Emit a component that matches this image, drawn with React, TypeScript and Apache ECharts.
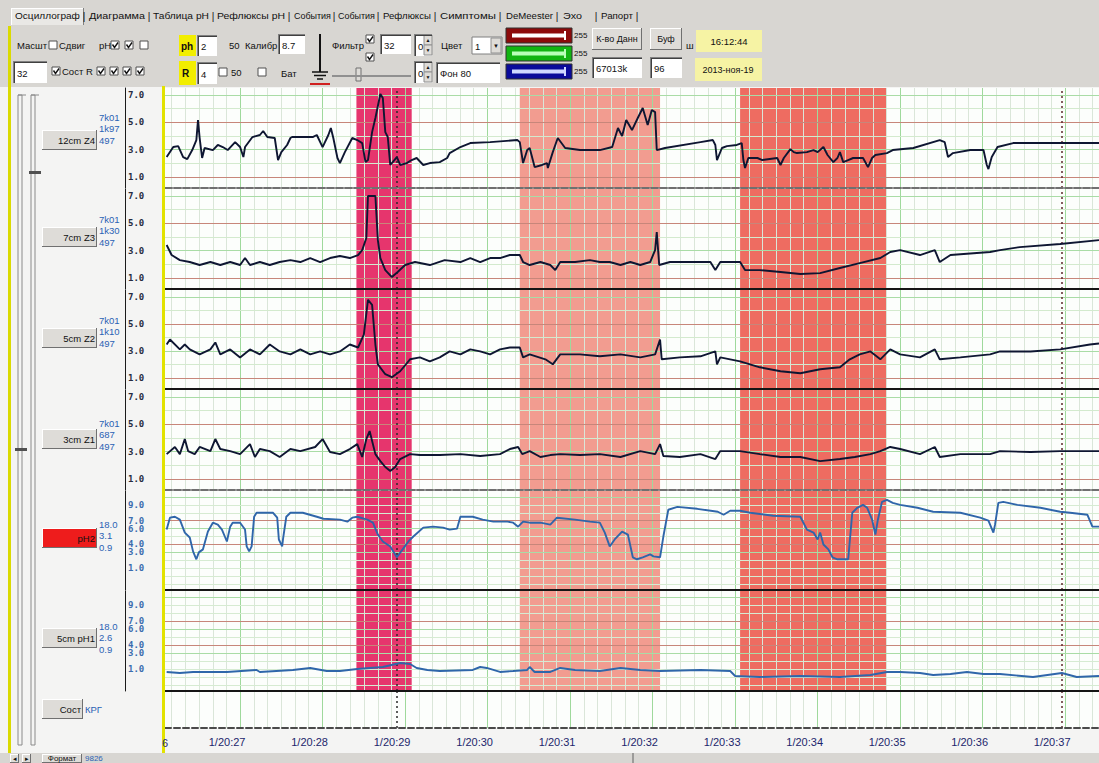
import React, { useEffect, useRef } from 'react';
import * as echarts from 'echarts';

// ---------- data ----------
const timeTicks = [27, 28, 29, 30, 31, 32, 33, 34, 35, 36, 37];
const timeLabels = ['1/20:27', '1/20:28', '1/20:29', '1/20:30', '1/20:31', '1/20:32', '1/20:33', '1/20:34', '1/20:35', '1/20:36', '1/20:37'];
const X_MIN = 26.09;
const X_MAX = 37.41;

const channelNames = ['12cm Z4', '7cm Z3', '5cm Z2', '3cm Z1', 'pH2', '5cm pH1'];
const channelReadouts = [
  ['7k01', '1k97', '497'],
  ['7k01', '1k30', '497'],
  ['7k01', '1k10', '497'],
  ['7k01', '687', '497'],
  ['18.0', '3.1', '0.9'],
  ['18.0', '2.6', '0.9'],
];
const zTickValues = [1, 3, 5, 7];
const phTickValues = [1, 3, 4, 6, 7, 9];

const tabNames = ['Осциллограф', 'Диаграмма', 'Таблица pH', 'Рефлюксы pH', 'События', 'События', 'Рефлюксы', 'Симптомы', 'DeMeester', 'Эхо', 'Рапорт'];

const bandRanges = [[28.41, 29.08], [30.39, 32.09], [33.06, 34.84]];
const bandColors = ['#e6356d', '#f29c90', '#ee6c61'];
const cursorTime = 28.9;
const markerTime = 36.96;

const trace12cmZ4 = [
  [26.11, 2.46], [26.19, 3.19], [26.25, 3.26], [26.31, 2.46], [26.36, 2.31], [26.42, 2.97], [26.47, 3.7], [26.49, 5.16], [26.51, 3.85], [26.54, 2.39],
  [26.57, 3.12], [26.67, 2.97], [26.73, 3.34], [26.79, 3.19], [26.85, 2.97], [26.94, 3.55], [27.0, 3.19], [27.04, 2.46], [27.06, 3.19], [27.15, 3.92],
  [27.24, 4.07], [27.28, 4.36], [27.33, 3.92], [27.42, 3.85], [27.46, 2.24], [27.5, 2.82], [27.57, 3.34], [27.61, 3.85], [27.63, 3.92], [27.88, 3.92],
  [27.93, 4.07], [28.0, 3.19], [28.07, 4.07], [28.1, 4.58], [28.13, 3.85], [28.18, 2.39], [28.21, 2.02], [28.27, 2.82], [28.36, 3.85], [28.42, 3.7],
  [28.48, 3.48], [28.52, 2.09], [28.55, 2.24], [28.6, 4.28], [28.64, 5.31], [28.7, 7.06], [28.73, 6.77], [28.76, 4.28], [28.79, 3.92], [28.82, 1.88],
  [28.85, 2.09], [28.9, 2.46], [28.94, 1.88], [29.02, 2.02], [29.08, 2.24], [29.14, 2.39], [29.22, 1.88], [29.3, 2.02], [29.42, 2.09], [29.51, 2.39],
  [29.54, 2.75], [29.67, 3.19], [29.79, 3.48], [30.03, 3.55], [30.36, 3.7], [30.39, 3.55], [30.43, 2.02], [30.48, 2.97], [30.51, 3.12], [30.57, 1.73],
  [30.66, 1.88], [30.72, 2.02], [30.73, 1.66], [30.79, 2.82], [30.85, 3.85], [30.94, 3.12], [31.12, 2.97], [31.36, 2.97], [31.51, 3.19], [31.58, 4.58],
  [31.63, 3.99], [31.68, 5.16], [31.75, 4.43], [31.82, 5.31], [31.88, 6.04], [31.94, 4.8], [31.99, 5.89], [32.03, 5.74], [32.05, 2.97], [32.15, 3.12],
  [32.58, 3.55], [32.73, 3.7], [32.76, 3.34], [32.78, 2.24], [32.84, 3.12], [32.9, 3.26], [33.02, 3.34], [33.08, 3.48], [33.1, 2.24], [33.12, 1.66],
  [33.16, 2.39], [33.27, 2.39], [33.33, 2.24], [33.51, 2.39], [33.55, 1.88], [33.59, 2.39], [33.67, 3.04], [33.71, 2.82], [33.75, 2.75], [33.87, 2.82],
  [33.95, 2.97], [34.0, 2.82], [34.07, 3.19], [34.12, 2.61], [34.19, 2.09], [34.24, 2.39], [34.27, 2.82], [34.31, 2.09], [34.37, 2.24], [34.43, 2.39],
  [34.55, 2.39], [34.61, 1.73], [34.66, 2.39], [34.7, 2.61], [34.84, 2.75], [34.91, 2.97], [35.16, 3.12], [35.48, 3.7], [35.54, 3.55], [35.58, 2.46],
  [35.64, 2.75], [35.85, 2.97], [36.01, 2.97], [36.05, 1.88], [36.07, 1.58], [36.11, 2.46], [36.18, 3.19], [36.37, 3.48], [36.7, 3.48], [37.41, 3.48],
];

const trace7cmZ3 = [
  [26.11, 3.41], [26.17, 2.68], [26.27, 2.31], [26.39, 2.17], [26.51, 1.95], [26.64, 2.17], [26.76, 1.95], [26.88, 2.17], [27.0, 1.95], [27.06, 2.46],
  [27.12, 1.95], [27.24, 2.17], [27.36, 1.95], [27.48, 2.17], [27.61, 2.31], [27.73, 2.17], [27.85, 2.46], [27.97, 2.17], [28.09, 2.46], [28.21, 2.61],
  [28.33, 2.46], [28.43, 2.68], [28.48, 3.04], [28.53, 3.92], [28.55, 6.99], [28.64, 6.99], [28.67, 3.77], [28.7, 2.46], [28.76, 1.58], [28.84, 1.07],
  [28.91, 1.44], [29.0, 1.95], [29.12, 2.17], [29.3, 1.95], [29.48, 2.31], [29.67, 2.17], [29.79, 2.46], [29.91, 2.17], [30.03, 2.46], [30.15, 2.46],
  [30.27, 2.68], [30.39, 2.68], [30.43, 2.17], [30.51, 1.95], [30.64, 2.17], [30.76, 1.95], [30.82, 1.58], [30.88, 2.17], [31.06, 2.17], [31.24, 2.31],
  [31.36, 2.17], [31.48, 2.17], [31.61, 1.95], [31.73, 2.17], [31.85, 1.95], [31.97, 2.17], [32.03, 3.04], [32.05, 4.36], [32.08, 1.95], [32.21, 2.17],
  [32.45, 2.17], [32.7, 2.17], [32.76, 1.58], [32.82, 2.17], [33.06, 2.17], [33.12, 1.58], [33.3, 1.58], [33.55, 1.44], [33.79, 1.29], [34.03, 1.36],
  [34.27, 1.73], [34.51, 2.09], [34.76, 2.46], [34.88, 2.9], [35.0, 3.04], [35.24, 2.68], [35.42, 3.04], [35.48, 2.17], [35.61, 2.68], [36.09, 2.9],
  [36.21, 3.04], [36.45, 3.26], [36.94, 3.48], [37.41, 3.77],
];

const trace5cmZ2 = [
  [26.11, 3.48], [26.15, 3.85], [26.27, 3.12], [26.33, 3.48], [26.39, 3.12], [26.51, 2.75], [26.64, 3.12], [26.7, 3.63], [26.76, 2.75], [26.88, 3.12],
  [27.0, 2.53], [27.12, 3.12], [27.24, 2.75], [27.36, 3.48], [27.48, 2.97], [27.61, 2.75], [27.73, 3.12], [27.85, 2.75], [27.97, 2.97], [28.09, 2.75],
  [28.21, 2.97], [28.33, 3.48], [28.43, 3.26], [28.5, 4.21], [28.55, 6.77], [28.6, 6.4], [28.64, 3.48], [28.67, 2.02], [28.76, 1.29], [28.84, 1.07],
  [28.94, 1.51], [29.06, 2.39], [29.18, 2.53], [29.3, 2.24], [29.42, 2.53], [29.54, 2.97], [29.67, 2.75], [29.79, 3.12], [29.91, 2.97], [30.03, 2.75],
  [30.15, 3.12], [30.27, 3.26], [30.39, 3.26], [30.43, 2.53], [30.51, 2.75], [30.7, 2.39], [30.79, 2.02], [30.88, 2.75], [31.12, 2.75], [31.36, 2.61],
  [31.61, 2.75], [31.85, 2.53], [32.03, 2.75], [32.09, 3.85], [32.11, 2.39], [32.33, 2.53], [32.58, 2.61], [32.76, 2.97], [32.78, 2.02], [32.82, 2.53],
  [33.06, 2.24], [33.3, 1.8], [33.55, 1.51], [33.79, 1.36], [34.03, 1.66], [34.27, 1.8], [34.39, 2.39], [34.51, 2.75], [34.64, 2.97], [34.76, 2.39],
  [34.88, 3.12], [35.0, 2.75], [35.24, 2.53], [35.42, 3.12], [35.48, 2.39], [35.73, 2.53], [36.09, 2.75], [36.21, 2.97], [36.58, 2.97], [36.94, 3.12],
  [37.3, 3.48], [37.41, 3.55],
];

const trace3cmZ1 = [
  [26.11, 2.82], [26.21, 3.34], [26.27, 2.82], [26.33, 3.92], [26.37, 3.04], [26.45, 2.82], [26.51, 3.34], [26.64, 3.04], [26.7, 3.92], [26.76, 3.19],
  [26.88, 3.04], [27.0, 2.82], [27.12, 3.55], [27.18, 2.61], [27.24, 3.19], [27.36, 3.04], [27.48, 2.61], [27.61, 3.19], [27.73, 3.04], [27.91, 3.34],
  [28.0, 3.92], [28.09, 2.97], [28.21, 2.82], [28.33, 3.19], [28.42, 3.55], [28.48, 2.61], [28.53, 3.92], [28.57, 4.5], [28.64, 2.82], [28.7, 2.31],
  [28.76, 1.88], [28.82, 1.58], [28.88, 1.88], [28.94, 2.46], [29.06, 2.82], [29.18, 2.75], [29.42, 2.75], [29.67, 2.82], [29.91, 2.68], [30.15, 2.82],
  [30.27, 3.19], [30.37, 3.34], [30.42, 2.82], [30.51, 3.04], [30.64, 2.61], [30.76, 2.75], [30.88, 2.82], [31.12, 2.75], [31.36, 2.82], [31.61, 2.61],
  [31.85, 3.04], [32.03, 2.82], [32.09, 3.55], [32.13, 2.68], [32.33, 2.61], [32.58, 2.82], [32.76, 2.46], [32.82, 3.04], [33.06, 3.04], [33.3, 2.82],
  [33.55, 2.61], [33.79, 2.61], [34.03, 2.31], [34.27, 2.46], [34.45, 2.61], [34.64, 2.82], [34.76, 3.04], [34.88, 3.34], [35.0, 3.19], [35.24, 2.82],
  [35.42, 3.34], [35.48, 2.61], [35.73, 2.82], [36.09, 2.82], [36.21, 3.04], [36.58, 2.97], [36.94, 3.04], [37.41, 3.04],
];

const tracePH2 = [
  [26.11, 5.88], [26.15, 7.38], [26.21, 7.5], [26.27, 7.13], [26.33, 5.5], [26.39, 4.88], [26.43, 3.13], [26.47, 2.13], [26.5, 3.0], [26.55, 3.38],
  [26.61, 5.63], [26.67, 6.75], [26.73, 6.5], [26.78, 5.88], [26.82, 4.88], [26.84, 4.38], [26.88, 6.25], [26.91, 6.75], [27.0, 6.75], [27.06, 5.88],
  [27.08, 3.75], [27.11, 3.13], [27.14, 3.75], [27.17, 7.5], [27.2, 8.0], [27.4, 8.0], [27.45, 7.38], [27.47, 4.63], [27.51, 3.75], [27.52, 4.63],
  [27.56, 7.5], [27.61, 8.0], [27.76, 8.0], [27.93, 7.5], [28.01, 7.25], [28.21, 7.13], [28.3, 6.88], [28.36, 7.38], [28.42, 7.5], [28.54, 7.13],
  [28.61, 6.75], [28.67, 5.25], [28.73, 4.38], [28.82, 3.75], [28.9, 2.38], [28.97, 3.38], [29.04, 4.38], [29.1, 5.0], [29.22, 6.13], [29.34, 6.25],
  [29.46, 6.13], [29.54, 5.88], [29.63, 6.0], [29.67, 7.5], [29.82, 7.5], [29.94, 7.13], [30.07, 6.88], [30.24, 6.88], [30.31, 6.75], [30.37, 6.25],
  [30.43, 6.88], [30.51, 6.75], [30.64, 6.75], [30.76, 6.5], [30.84, 7.38], [31.06, 7.13], [31.24, 6.88], [31.36, 6.75], [31.42, 5.5], [31.48, 3.75],
  [31.54, 4.63], [31.63, 5.63], [31.7, 5.25], [31.76, 2.38], [31.81, 2.13], [31.88, 2.38], [31.97, 2.75], [32.01, 2.5], [32.09, 2.38], [32.13, 5.0],
  [32.19, 8.38], [32.3, 8.75], [32.54, 8.5], [32.79, 8.13], [32.86, 7.75], [32.94, 8.25], [33.06, 8.25], [33.18, 8.0], [33.46, 7.63], [33.79, 7.5],
  [33.87, 5.88], [33.95, 5.5], [34.0, 4.63], [34.03, 5.5], [34.07, 4.0], [34.13, 3.38], [34.18, 2.38], [34.24, 2.13], [34.37, 2.13], [34.42, 8.0],
  [34.48, 8.63], [34.55, 9.0], [34.6, 8.63], [34.66, 7.13], [34.7, 5.25], [34.73, 7.13], [34.78, 9.38], [34.84, 9.63], [34.91, 9.25], [35.0, 9.0],
  [35.21, 8.63], [35.4, 8.13], [35.73, 8.0], [35.97, 7.38], [36.07, 7.0], [36.13, 5.5], [36.15, 6.5], [36.19, 9.25], [36.25, 9.38], [36.42, 9.0],
  [36.7, 8.63], [36.94, 8.13], [37.06, 8.0], [37.27, 7.75], [37.33, 6.25], [37.41, 6.25],
];

const trace5cmPH1 = [
  [26.11, 0.63], [26.27, 0.5], [26.43, 0.63], [26.84, 0.63], [27.2, 0.88], [27.24, 0.63], [27.64, 0.88], [27.85, 1.13], [28.05, 0.75], [28.21, 0.75],
  [28.42, 1.0], [28.73, 1.25], [28.94, 1.75], [29.06, 1.63], [29.14, 1.13], [29.27, 0.88], [29.42, 0.75], [29.82, 0.88], [29.91, 1.25], [29.99, 1.13],
  [30.15, 0.63], [30.31, 0.75], [30.48, 0.88], [30.51, 1.25], [30.57, 0.63], [30.76, 0.63], [30.88, 1.13], [31.06, 0.88], [31.36, 0.75], [31.61, 1.13],
  [31.85, 0.88], [32.09, 0.75], [32.58, 0.88], [32.94, 0.75], [33.0, 0.13], [33.3, 0.0], [33.79, 0.13], [34.27, 0.0], [34.64, 0.25], [34.84, 0.63],
  [35.0, 0.63], [35.24, 0.5], [35.4, 0.25], [35.61, 0.38], [35.81, 0.63], [36.01, 0.38], [36.21, 0.38], [36.61, 0.0], [36.96, 0.5], [37.14, 0.0],
  [37.41, 0.13],
];

const traces = [trace12cmZ4, trace7cmZ3, trace5cmZ2, trace3cmZ1, tracePH2, trace5cmPH1];

// ---------- layout / style ----------
const PLOT_LEFT = 165;
const PANEL_TOPS = [88, 189, 290, 390, 491, 591, 692];
const PANEL_HEIGHTS = [100, 100, 99, 100, 99, 100, 36];
const SEP_COLORS = ['#707070', '#151515', '#151515', '#707070', '#151515', '#151515'];
const SEP_TYPES: any[] = [[7, 2], 'solid', 'solid', [7, 2], 'solid', 'solid'];
const TAB_SPANS = [[15, 80], [89, 145], [153, 209], [217, 285], [294, 331], [338, 375], [383, 431], [440, 496], [506, 553], [563, 582], [601, 633]];
const TAB_SEPS = [84, 149, 213, 289, 334, 378, 435, 500, 557, 596, 637];
const UI_FONT = '"Liberation Sans", Arial, sans-serif';
const MONO_FONT = '"DejaVu Sans Mono", monospace';
const Z_COLOR = '#0e1632';
const PH_OUT = '#2f66aa';
const PH_IN = '#141a3a';

let measureCtx: CanvasRenderingContext2D | null = null;
function measure(text: string, font: string) {
  if (!measureCtx) measureCtx = document.createElement('canvas').getContext('2d');
  if (!measureCtx) return text.length * 5;
  measureCtx.font = font;
  return measureCtx.measureText(text).width;
}

function T(x: number, y: number, text: string, o: any = {}) {
  const align = o.align || 'left';
  const font = `${o.weight || 'normal'} ${o.size || 9.5}px ${o.family || UI_FONT}`;
  const el: any = {
    type: 'text', x, y, z: 30, silent: true,
    style: {
      text, fill: o.fill || '#111', font,
      textAlign: align, align, textVerticalAlign: 'middle', verticalAlign: 'middle',
    },
  };
  if (o.fitWidth) el.scaleX = o.fitWidth / measure(text, font);
  return el;
}
function R(x: number, y: number, w: number, h: number, fill: string, stroke?: string, lw = 1) {
  const style: any = { fill };
  if (stroke) { style.stroke = stroke; style.lineWidth = lw; }
  return { type: 'rect', z: 20, silent: true, shape: { x, y, width: w, height: h }, style };
}
function L(x1: number, y1: number, x2: number, y2: number, stroke: string, lw = 1) {
  return { type: 'line', z: 25, silent: true, shape: { x1, y1, x2, y2 }, style: { stroke, lineWidth: lw } };
}
function button(x: number, y: number, w: number, h: number, label: string, o: any = {}) {
  const align = o.align || 'center';
  const tx = align === 'right' ? x + w - 2 : align === 'left' ? x + 3 : x + w / 2;
  return [
    R(x, y, w, h, o.fill || '#dedcd8'),
    L(x, y + 0.5, x + w, y + 0.5, '#ffffff'), L(x + 0.5, y, x + 0.5, y + h, '#ffffff'),
    L(x, y + h - 0.5, x + w, y + h - 0.5, '#707070'), L(x + w - 0.5, y, x + w - 0.5, y + h, '#707070'),
    T(tx, y + h / 2, label, { align, fill: o.color || '#111', size: o.size }),
  ];
}
function input(x: number, y: number, w: number, h: number, label: string) {
  return [
    R(x, y, w, h, '#ffffff'),
    L(x, y + 0.5, x + w, y + 0.5, '#808080'), L(x + 0.5, y, x + 0.5, y + h, '#808080'),
    L(x + 1, y + 1.5, x + w, y + 1.5, '#404040'), L(x + 1.5, y + 1, x + 1.5, y + h, '#404040'),
    T(x + 4, y + h / 2 + 1, label),
  ];
}
function check(x: number, y: number, checked: boolean) {
  const els: any[] = [R(x, y, 8, 8, '#ffffff', '#505050')];
  if (checked) {
    els.push({ type: 'polyline', z: 26, silent: true, shape: { points: [[x + 1.5, y + 3.5], [x + 3.5, y + 6.5], [x + 7, y + 1.5]] }, style: { stroke: '#111', lineWidth: 1.4, fill: 'none' } });
  }
  return els;
}
function spin(x: number, y: number, label: string) {
  return [
    ...input(x, y, 18, 22, label),
    R(x + 10, y + 1, 8, 10, '#dedcd8', '#909090'), R(x + 10, y + 11, 8, 10, '#dedcd8', '#909090'),
    T(x + 14, y + 6, '▲', { align: 'center', size: 5 }), T(x + 14, y + 16, '▼', { align: 'center', size: 5 }),
  ];
}
function colorBar(x: number, y: number, fill: string, inner: string) {
  return [R(x, y, 66, 15, fill, '#303030'), R(x + 6, y + 5.5, 54, 4, inner), R(x + 58, y + 3, 2, 9, inner)];
}

function buildGraphics() {
  const g: any[] = [];
  // toolbar
  g.push(R(0, 0, 1099, 87, '#d8d6d2'));
  g.push(R(8, 26, 3, 737, '#dada00'));
  g.push(R(11, 8, 73, 17, '#e9e8e5'), L(11, 8.5, 84, 8.5, '#ffffff'), L(11.5, 8, 11.5, 25, '#ffffff'), L(83.5, 8, 83.5, 25, '#808080'));
  tabNames.forEach((t, i) => g.push(T(TAB_SPANS[i][0], 16, t, { size: 9.5, fitWidth: TAB_SPANS[i][1] - TAB_SPANS[i][0] })));
  TAB_SEPS.forEach((x) => g.push(T(x, 16, '|', { size: 10, align: 'center' })));

  // row 2
  g.push(T(17, 45, 'Масшт'), ...check(49, 41, false), T(59, 45, 'Сдвиг'), T(99, 45, 'pH'));
  g.push(...check(111, 41, true), ...check(125, 41, true), ...check(140, 41, false));
  g.push(R(179, 35, 17, 21, '#f2ee00'), T(181, 46, 'ph', { weight: 'bold', size: 10 }));
  g.push(...input(197, 35, 20, 21, '2'));
  g.push(T(229, 45, '50'), T(245, 45, 'Калибр'));
  g.push(...input(278, 34, 27, 20, '8.7'));
  g.push(L(320, 34, 320, 72, '#111', 2), L(312, 72, 328, 72, '#111', 1.5), L(314, 75.5, 326, 75.5, '#111', 1.5), L(317, 79, 323, 79, '#111', 1.5));
  g.push(L(310, 84, 330, 84, '#d02020', 2));
  g.push(T(332, 45, 'Фильтр'), ...check(366, 35, true), ...check(366, 53, true));
  g.push(...input(380, 34, 31, 20, '32'));
  g.push(...spin(414, 34, '0'));
  g.push(T(441, 45, 'Цвет'));
  g.push(R(472, 37, 30, 17, '#ffffff', '#808080'), T(475, 46, '1'), R(491, 38, 10, 15, '#dedcd8', '#909090'), T(496, 46, '▼', { align: 'center', size: 6 }));
  g.push(...colorBar(506, 28, '#8c0a0a', '#ffffff'), ...colorBar(506, 46, '#12b412', '#b8ffb8'), ...colorBar(506, 64, '#0a0a9a', '#d0d8ff'));
  g.push(T(574, 35, '255', { size: 8 }), T(574, 53, '255', { size: 8 }), T(574, 71, '255', { size: 8 }));
  g.push(...button(592, 28, 50, 22, 'К-во Данн', { size: 9 }));
  g.push(...button(650, 28, 32, 22, 'Буф', { size: 9 }));
  g.push(T(686, 45, 'ш'));
  g.push(R(696, 30, 66, 22, '#f6f3a4'), T(729, 41, '16:12:44', { align: 'center' }));
  // row 3
  g.push(...input(13, 61, 34, 22, '32'));
  g.push(...check(52, 67, true), T(62, 71, 'Сост R'));
  g.push(...check(97, 67, true), ...check(110, 67, true), ...check(123, 67, true), ...check(136, 67, true));
  g.push(R(179, 61, 17, 24, '#f2ee00'), T(182, 73, 'R', { weight: 'bold', size: 10 }));
  g.push(...input(197, 62, 20, 22, '4'));
  g.push(...check(219, 68, false), T(231, 72, '50'), ...check(258, 68, false), T(281, 73, 'Бат'));
  g.push(L(332, 76, 411, 76, '#909090', 2), R(356, 68, 5, 13, '#dedcd8', '#707070'));
  g.push(...spin(414, 61, '0'));
  g.push(...input(436, 62, 64, 21, 'Фон 80'));
  g.push(...input(592, 57, 50, 21, '67013k'));
  g.push(...input(650, 57, 32, 21, '96'));
  g.push(R(695, 58, 67, 23, '#f6f3a4'), T(728, 70, '2013-ноя-19', { align: 'center', size: 9 }));

  // left panel
  g.push(R(18, 95, 4, 650, 'none', '#8a8a8a'), R(31, 95, 4, 650, 'none', '#8a8a8a'));
  g.push(L(18, 95, 26, 95, '#8a8a8a'), L(31, 95, 39, 95, '#8a8a8a'));
  g.push(R(29, 171, 12, 3, '#505050'), R(15, 448, 12, 3, '#505050'));
  const btnTops = [130, 227, 328, 429, 528, 628];
  const readTops = [117, 219, 320, 423, 524, 626];
  channelNames.forEach((name, i) => {
    const isRed = i === 4;
    g.push(...button(42, btnTops[i], 55, 20, name, { align: 'right', fill: isRed ? '#ee1c1c' : '#dedcd8', size: 9.5 }));
    channelReadouts[i].forEach((r, k) => g.push(T(99, readTops[i] + k * 11.5, r, { fill: '#2a62b4', size: 9.5 })));
  });
  g.push(...button(42, 699, 41, 20, 'Сост', { align: 'right', size: 9.5 }), T(85, 709, 'КРГ', { fill: '#2a62b4', size: 9.5 }));

  // plot boundary / bottom
  g.push(R(162, 86, 3, 668, '#e2e200'));
  g.push(T(162, 743, '6', { fill: '#1f2a70', size: 11 }));
  g.push(R(0, 753, 1099, 10, '#d8d6d2'));
  g.push(L(633, 753, 633, 763, '#606060'));
  g.push(...button(10, 754, 9, 9, '◂', { size: 7 }), ...button(22, 754, 9, 9, '▸', { size: 7 }));
  g.push(...button(42, 754, 40, 9, 'Формат', { size: 8 }), T(85, 758, '9826', { fill: '#2a62b4', size: 8 }));
  return g;
}

function App() {
  const ref = useRef<HTMLDivElement>(null);
  useEffect(() => {
    document.body.style.margin = '0';
    if (!ref.current) return;
    const chart = echarts.init(ref.current, undefined, { renderer: 'svg' });

    // vertical grid lines (major each second, 6 subdivisions)
    const vLines: any[] = [];
    for (let s = 26; s <= 37; s++) {
      for (let k = 0; k < 6; k++) {
        const v = s + k / 6;
        if (v > X_MIN + 0.02 && v < X_MAX - 0.02) {
          vLines.push({ xAxis: v, lineStyle: { color: k === 0 ? '#9fd99c' : '#dae6d9', width: 1, type: 'solid' } });
        }
      }
    }
    const specialLines = [
      { xAxis: cursorTime, lineStyle: { color: '#2a2a2a', width: 1.5, type: [2, 3] } },
      { xAxis: markerTime, lineStyle: { color: '#5c2a2a', width: 1.5, type: [2, 3] } },
    ];
    const hLinesFor = (i: number) => {
      const out: any[] = [];
      if (i < 4) {
        [1, 2, 3, 4, 5, 6, 7].forEach((v) => {
          const c = v === 1 || v === 5 ? '#c7867a' : v === 3 || v === 7 ? '#a9dca6' : '#d3eace';
          out.push({ yAxis: v, lineStyle: { color: c, width: 1, type: 'solid' } });
        });
      } else if (i < 6) {
        [-1, 0, 1, 2, 3, 4, 5, 6, 7, 8, 9, 10].forEach((v) => {
          const c = v === 4 || v === 7 ? '#c7867a' : v === 3 || v === 6 || v === 10 ? '#a9dca6' : '#d6ebd2';
          out.push({ yAxis: v, lineStyle: { color: c, width: 1, type: 'solid' } });
        });
      }
      return out;
    };
    const markAreaData = bandRanges.map((r, i) => [
      { xAxis: r[0], itemStyle: { color: bandColors[i], opacity: 1 } },
      { xAxis: r[1] },
    ]);
    const markLineFor = (i: number) => ({
      silent: true, z: 2, symbol: ['none', 'none'], animation: false,
      label: { show: false }, emphasis: { disabled: true },
      lineStyle: { type: 'solid' },
      data: [...vLines, ...hLinesFor(i), ...specialLines],
    });

    const grids = PANEL_TOPS.map((top, i) => ({
      left: PLOT_LEFT, width: 1099 - PLOT_LEFT, top, height: PANEL_HEIGHTS[i],
      show: true, backgroundColor: '#fcfefc', borderWidth: 0, containLabel: false, outerBoundsMode: 'none',
    }));

    const xAxes = PANEL_TOPS.map((_, i) => ({
      type: 'value', gridIndex: i, min: X_MIN, max: X_MAX, z: 4,
      axisLine: {
        show: true, onZero: false,
        lineStyle: i < 6
          ? { color: SEP_COLORS[i], width: 2, type: SEP_TYPES[i] }
          : { color: '#4a4a4a', width: 2, type: [6, 3] },
      },
      axisTick: { show: false },
      splitLine: { show: false },
      axisLabel: i < 6
        ? { show: false }
        : {
            show: true, customValues: timeTicks,
            formatter: (v: number) => { const k = timeTicks.findIndex((t) => Math.abs(t - v) < 1e-6); return k >= 0 ? timeLabels[k] : ''; },
            color: '#1c266c', fontSize: 11, fontFamily: 'Liberation Sans', margin: 8, padding: [0, 26, 0, 0],
          },
    }));

    const yAxes = PANEL_TOPS.map((_, i) => {
      if (i === 6) return { type: 'value', gridIndex: 6, min: 0, max: 1, show: false };
      const isPH = i >= 4;
      return {
        type: 'value', gridIndex: i, position: 'left', offset: 40, z: 4,
        min: isPH ? -1.75 : 0.2, max: isPH ? 10.75 : 7.5,
        axisLine: { show: true, onZero: false, lineStyle: { color: '#1a1a1a', width: 1 } },
        axisTick: { show: false },
        splitLine: { show: false },
        axisLabel: {
          show: true, inside: true, margin: 3,
          customValues: isPH ? phTickValues : zTickValues,
          formatter: (v: number) => v.toFixed(1),
          color: isPH ? '#3a6cae' : '#262b40', fontSize: 9, fontFamily: MONO_FONT, fontWeight: 'bold',
        },
      };
    });

    const series: any[] = traces.map((d, i) => ({
      name: channelNames[i], type: 'line', xAxisIndex: i, yAxisIndex: i, data: d,
      showSymbol: false, symbol: 'none', z: 3, silent: true,
      lineStyle: { color: i < 4 ? Z_COLOR : PH_OUT, width: 1.9 },
      markArea: { silent: true, z: 1, data: markAreaData },
      markLine: markLineFor(i),
    }));
    series.push({
      name: 'Сост', type: 'line', xAxisIndex: 6, yAxisIndex: 6, data: [], showSymbol: false, z: 3,
      markLine: markLineFor(6),
    });

    const pieces: any[] = [];
    let prev: number | null = null;
    bandRanges.forEach((r) => {
      pieces.push(prev === null ? { lt: r[0], color: PH_OUT } : { gte: prev, lt: r[0], color: PH_OUT });
      pieces.push({ gte: r[0], lt: r[1], color: PH_IN });
      prev = r[1];
    });
    pieces.push({ gte: prev, color: PH_OUT });

    chart.setOption({
      animation: false,
      backgroundColor: '#f4f4f3',
      grid: grids,
      xAxis: xAxes,
      yAxis: yAxes,
      visualMap: [{ type: 'piecewise', show: false, dimension: 0, seriesIndex: [4, 5], pieces }],
      series,
      graphic: buildGraphics(),
    });
    return () => chart.dispose();
  }, []);
  return <div ref={ref} style={{ position: 'fixed', left: 0, top: 0, width: 1099, height: 763 }} />;
}

export default App;
